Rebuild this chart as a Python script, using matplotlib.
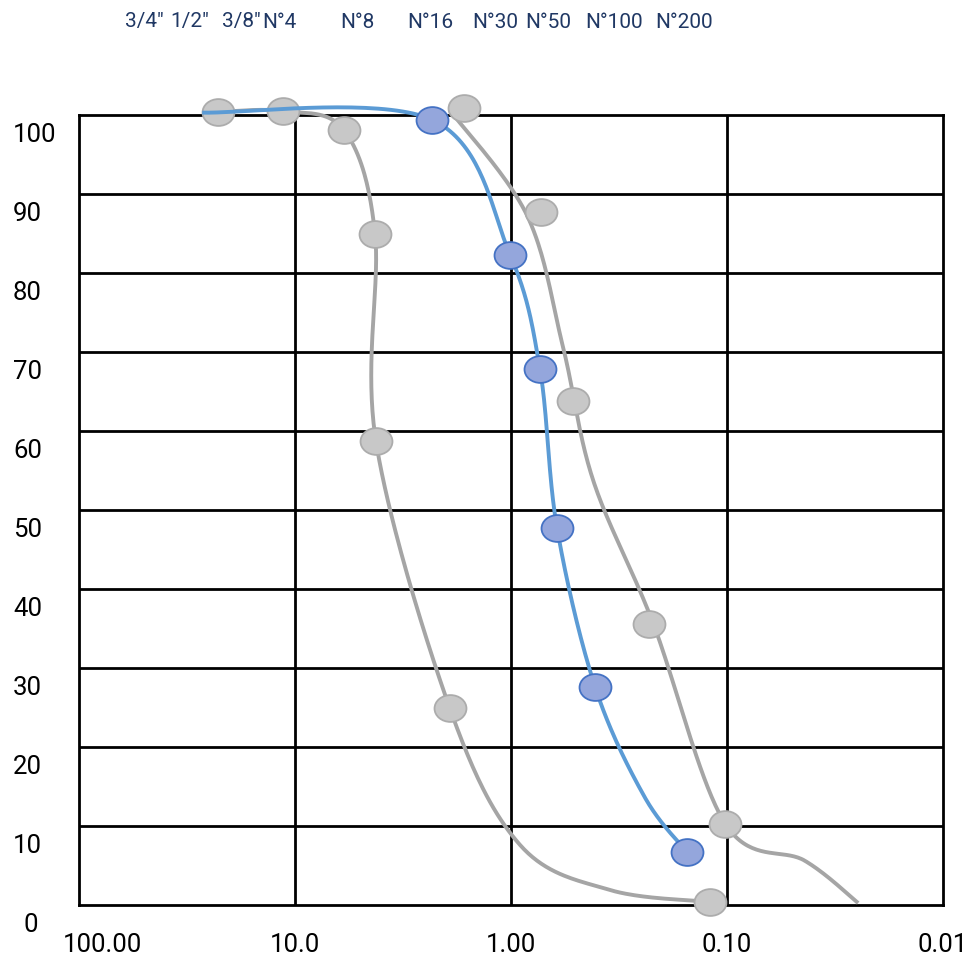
import numpy as np
import matplotlib
matplotlib.use('Agg')
import matplotlib.pyplot as plt
import matplotlib.transforms as mtransforms
from matplotlib.path import Path

plt.rcParams['font.family'] = ['Roboto', 'DejaVu Sans']

# Данные: размер частиц (мм) и процент прохода (%)
# Левая серая кривая
gray1_size = [22.7, 11.4, 5.93, 4.26, 4.22, 1.92, 0.908, 0.348, 0.120]
gray1_pass = [100.4, 100.5, 98.1, 84.9, 58.7, 24.9, 7.6, 1.9, 0.4]
gray1_mark_size = [22.7, 11.4, 5.93, 4.26, 4.22, 1.92, 0.120]
gray1_mark_pass = [100.4, 100.5, 98.1, 84.9, 58.7, 24.9, 0.4]

# Правая серая кривая
gray2_size = [1.92, 0.843, 0.574, 0.417, 0.220, 0.102, 0.0436, 0.0247]
gray2_pass = [100.6, 87.3, 70.6, 53.8, 35.7, 10.3, 5.6, 0.25]
gray2_mark_size = [1.65, 0.726, 0.516, 0.230, 0.102]
gray2_mark_pass = [100.9, 87.7, 63.8, 35.6, 10.3]

# Синяя кривая
blue_size = [26.9, 2.32, 1.01, 0.734, 0.612, 0.408, 0.241, 0.153]
blue_pass = [100.3, 99.4, 82.3, 67.8, 47.7, 27.6, 13.7, 6.7]
blue_mark_size = [2.32, 1.01, 0.734, 0.612, 0.408, 0.153]
blue_mark_pass = [99.4, 82.3, 67.8, 47.7, 27.6, 6.7]

# Подписи
sieve_labels = ['3/4"', '1/2"', '3/8"', 'N°4', 'N°8', 'N°16', 'N°30', 'N°50', 'N°100', 'N°200']
sieve_label_px = [125, 170, 222, 262, 340, 407, 472, 525, 585, 655]
x_ticks = [100, 10, 1, 0.1, 0.01]
x_tick_labels = ['100.00', '10.0', '1.00', '0.10', '0.01']
y_ticks = [0, 10, 20, 30, 40, 50, 60, 70, 80, 90, 100]

W, H = 968, 961
L, R, T, B = 79, 943, 115, 905
PX_DEC = (R - L) / 4.0
PX_PCT = (B - T) / 100.0


def smooth(xs, ys, n=40):
    # сглаживание как в Excel (Catmull-Rom) в экранных координатах
    u = np.log10(np.array(xs, float)) * PX_DEC
    v = np.array(ys, float) * PX_PCT
    p = np.column_stack([u, v])
    pts = np.vstack([p[0], p, p[-1]])
    out = []
    for i in range(1, len(pts) - 2):
        p0, p1, p2, p3 = pts[i - 1], pts[i], pts[i + 1], pts[i + 2]
        m1 = (p2 - p0) / 2.0
        m2 = (p3 - p1) / 2.0
        t = np.linspace(0, 1, n)[:, None]
        h00 = 2 * t**3 - 3 * t**2 + 1
        h10 = t**3 - 2 * t**2 + t
        h01 = -2 * t**3 + 3 * t**2
        h11 = t**3 - t**2
        out.append(h00 * p1 + h10 * m1 + h01 * p2 + h11 * m2)
    out = np.vstack(out)
    return 10 ** (out[:, 0] / PX_DEC), out[:, 1] / PX_PCT


# эллиптический маркер
circ = Path.unit_circle()
ellipse = Path(circ.vertices * np.array([1.0, 0.84]), circ.codes)

fig = plt.figure(figsize=(W / 100, H / 100), dpi=100)
ax = fig.add_axes([L / W, (H - B) / H, (R - L) / W, (B - T) / H])

ax.set_xscale('log')
ax.set_xlim(100, 0.01)
ax.set_ylim(0, 100)

for xv in x_ticks[1:-1]:
    ax.axvline(xv, color='black', lw=2, zorder=1)
for yv in y_ticks[1:-1]:
    ax.axhline(yv, color='black', lw=2, zorder=1)
for s in ax.spines.values():
    s.set_linewidth(2)
    s.set_color('black')
ax.set_xticks([])
ax.set_yticks([])
ax.minorticks_off()

gx, gy = smooth(gray1_size, gray1_pass)
ax.plot(gx, gy, color='#a5a5a5', lw=2.8, zorder=3, clip_on=False, solid_capstyle='butt')
gx, gy = smooth(gray2_size, gray2_pass)
ax.plot(gx, gy, color='#a5a5a5', lw=2.8, zorder=3, clip_on=False, solid_capstyle='butt')

ax.plot(gray1_mark_size, gray1_mark_pass, ls='none', marker=ellipse, ms=23,
        mfc='#c8c8c8', mec='#acacac', mew=1.3, zorder=4, clip_on=False)
ax.plot(gray2_mark_size, gray2_mark_pass, ls='none', marker=ellipse, ms=23,
        mfc='#c8c8c8', mec='#acacac', mew=1.3, zorder=4, clip_on=False)

bx, by = smooth(blue_size, blue_pass)
ax.plot(bx, by, color='#5b9bd5', lw=2.8, zorder=5, clip_on=False, solid_capstyle='butt')
ax.plot(blue_mark_size, blue_mark_pass, ls='none', marker=ellipse, ms=23,
        mfc='#94a6dc', mec='#4472c4', mew=1.3, zorder=6, clip_on=False)

# подписи оси Y (смещены вниз, как в исходнике)
for yv in y_ticks:
    off = mtransforms.ScaledTranslation(0, -20 / 100, fig.dpi_scale_trans)
    x0 = (24 - L) / (R - L) if yv == 0 else (13 - L) / (R - L)
    ax.text(x0, yv, str(yv), transform=ax.get_yaxis_transform() + off,
            ha='left', va='center', fontsize=18.5, color='black', clip_on=False)

# подписи оси X
for xv, lab in zip(x_ticks, x_tick_labels):
    if xv == 100:
        off = mtransforms.ScaledTranslation(-16 / 100, -40 / 100, fig.dpi_scale_trans)
        ha = 'left'
    else:
        off = mtransforms.ScaledTranslation(0, -40 / 100, fig.dpi_scale_trans)
        ha = 'center'
    ax.text(xv, 0, lab, transform=ax.get_xaxis_transform() + off,
            ha=ha, va='center', fontsize=18.5, color='black', clip_on=False)

# сита сверху
for lab, px in zip(sieve_labels, sieve_label_px):
    fig.text(px / W, 1 - 22 / H, lab, ha='left', va='center', fontsize=15, color='#203864')

fig.savefig('out.png', dpi=100)
